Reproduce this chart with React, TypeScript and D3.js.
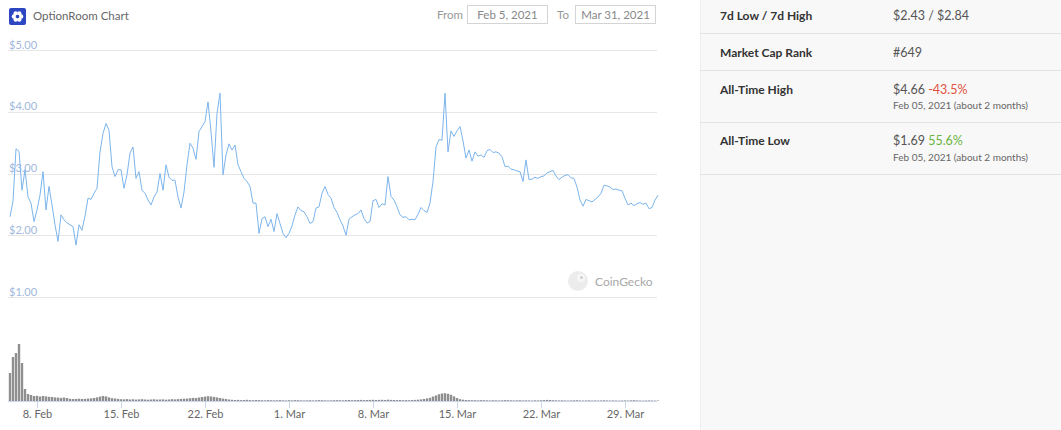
import React from "react";
import * as d3 from "d3";

// ---- data (6-hour samples, first sample Feb 5 2021 18:00 UTC) ----
const START_ISO = "2021-02-05T18:00:00Z";
const STEP_HOURS = 6;

const PRICE: number[] = [
  2.30, 2.55, 3.40, 3.36, 2.73, 3.06, 2.62, 2.52, 2.22, 2.41,
  2.65, 3.03, 2.41, 2.79, 2.49, 2.17, 1.90, 2.33, 2.25, 2.20,
  2.17, 2.14, 1.84, 2.17, 2.08, 2.31, 2.60, 2.58, 2.68, 2.76,
  3.35, 3.65, 3.81, 3.70, 3.11, 2.95, 3.06, 3.06, 2.76, 2.98,
  3.33, 3.43, 2.92, 3.03, 2.73, 2.68, 2.57, 2.49, 2.62, 2.70,
  3.00, 2.73, 3.14, 2.94, 2.89, 2.89, 2.62, 2.44, 2.70, 3.14,
  3.49, 3.41, 3.23, 3.68, 3.76, 3.84, 4.16, 3.68, 3.10, 3.97,
  4.30, 2.98, 3.30, 3.48, 3.38, 3.46, 3.14, 3.03, 2.92, 2.87,
  2.79, 2.52, 2.52, 2.03, 2.27, 2.30, 2.14, 2.26, 2.06, 2.35,
  2.19, 2.03, 1.96, 2.03, 2.15, 2.33, 2.46, 2.40, 2.38, 2.30,
  2.19, 2.22, 2.44, 2.46, 2.68, 2.79, 2.66, 2.60, 2.45, 2.37,
  2.25, 2.15, 2.00, 2.26, 2.30, 2.33, 2.35, 2.41, 2.27, 2.20,
  2.22, 2.56, 2.58, 2.45, 2.51, 2.49, 2.95, 2.63, 2.57, 2.46,
  2.33, 2.29, 2.30, 2.25, 2.26, 2.25, 2.34, 2.45, 2.40, 2.37,
  2.52, 2.87, 3.43, 3.55, 3.54, 4.30, 3.35, 3.69, 3.60, 3.69,
  3.76, 3.53, 3.25, 3.38, 3.20, 3.35, 3.28, 3.30, 3.26, 3.37,
  3.39, 3.34, 3.35, 3.33, 3.27, 3.11, 3.12, 3.07, 3.06, 3.04,
  3.03, 2.87, 3.22, 2.90, 2.91, 2.94, 2.92, 2.95, 2.96, 3.01,
  3.03, 3.05, 2.96, 2.90, 2.94, 2.97, 2.98, 2.93, 2.92, 2.78,
  2.57, 2.47, 2.58, 2.56, 2.54, 2.58, 2.62, 2.68, 2.81, 2.80,
  2.78, 2.74, 2.75, 2.73, 2.72, 2.60, 2.49, 2.52, 2.48, 2.51,
  2.53, 2.50, 2.52, 2.43, 2.45, 2.57, 2.65,
];

const VOLUME: number[] = [
  28, 44, 48, 57, 38, 12, 7, 6, 5, 5.2,
  4.5, 5, 4.6, 4.2, 4, 3.6, 3.4, 3.1, 3.5, 3,
  2.2, 2, 2.1, 2.3, 2, 2.1, 2.4, 2.6, 3, 3.6,
  4.4, 5, 4.6, 3.6, 2.8, 2.5, 2.1, 1.8, 1.6, 1.9,
  1.5, 1.7, 1.4, 1.6, 1.8, 1.5, 1.3, 1.5, 1.7, 1.4,
  1.5, 1.6, 1.3, 1.5, 1.8, 1.6, 1.9, 2.1, 2.3, 2.4,
  2.8, 3.1, 3.0, 3.5, 4.0, 4.4, 4.8, 4.5, 4.1, 3.6,
  3.0, 2.4, 2.0, 1.5, 1.2, 1.0, 1.1, 0.9, 1.0, 1.2,
  0.9, 0.8, 1.0, 0.9, 0.8, 0.7, 0.9, 0.8, 0.7, 0.8,
  0.9, 0.7, 0.6, 0.8, 0.7, 0.9, 0.8, 0.7, 0.6, 0.7,
  0.8, 0.6, 0.7, 0.9, 0.8, 0.7, 0.6, 0.7, 0.8, 0.9,
  0.8, 0.7, 0.9, 1.0, 0.8, 0.9, 1.0, 1.1, 0.9, 1.0,
  1.1, 1.2, 1.0, 1.1, 1.2, 1.0, 1.3, 1.1, 1.0, 0.9,
  1.0, 0.8, 0.9, 0.8, 1.0, 1.1, 1.3, 1.6, 2.0, 2.6,
  3.2, 4.5, 5.6, 6.8, 7.5, 7.8, 7.2, 6.2, 4.6, 3.0,
  1.8, 1.3, 1.0, 0.9, 0.8, 0.8, 0.7, 0.9, 0.8, 0.7,
  0.6, 0.8, 0.7, 0.6, 0.7, 0.9, 0.8, 0.7, 0.6, 0.7,
  0.8, 0.6, 0.7, 0.6, 0.5, 0.7, 0.6, 0.8, 0.9, 1.1,
  1.0, 0.8, 0.7, 0.6, 0.7, 0.6, 0.5, 0.6, 0.7, 0.8,
  0.6, 0.5, 0.6, 0.7, 0.5, 0.6, 0.5, 0.6, 0.7, 0.6,
  0.5, 0.6, 0.5, 0.4, 0.5, 0.6, 0.5, 0.7, 0.8, 0.6,
  0.5, 0.4, 0.5, 0.6, 0.5, 0.4, 0.5,
];

const PRICE_TICKS: number[] = [1, 2, 3, 4, 5];
const X_TICK_DATES: string[] = [
  "2021-02-08", "2021-02-15", "2021-02-22", "2021-03-01",
  "2021-03-08", "2021-03-15", "2021-03-22", "2021-03-29",
];
const X_TICK_LABELS: string[] = [
  "8. Feb", "15. Feb", "22. Feb", "1. Mar", "8. Mar", "15. Mar", "22. Mar", "29. Mar",
];

const STAT_LABELS: string[] = ["7d Low / 7d High", "Market Cap Rank", "All-Time High", "All-Time Low"];
const STAT_VALUES: string[] = ["$2.43 / $2.84", "#649", "$4.66", "$1.69"];
const STAT_CHANGES: string[] = ["", "", "-43.5%", "55.6%"];
const STAT_DATES: string[] = ["", "", "Feb 05, 2021 (about 2 months)", "Feb 05, 2021 (about 2 months)"];

const FONT = "Lato, 'Open Sans', sans-serif";

export default function App() {
  const W = 1061;
  const H = 430;
  const start = new Date(START_ISO).getTime();
  const step = STEP_HOURS * 3600 * 1000;
  const dates = PRICE.map((_, i) => new Date(start + i * step));
  const end = dates[dates.length - 1];

  const x = d3.scaleUtc().domain([dates[0], end]).range([10, 658]);
  const y = d3.scaleLinear().domain([1, 5]).range([297, 50]);
  const yv = d3.scaleLinear().domain([0, 57]).range([401, 344]);

  const line = d3
    .line<number>()
    .x((_, i) => x(dates[i]))
    .y((d) => y(d));

  const gridX0 = 8;
  const gridX1 = 657;

  const rowLines = [33.5, 70.5, 122.5, 174.5];
  const rowY = [19.5, 56.5, 93.5, 145];

  const iconCx = 17.5;
  const iconCy = 16;
  const petals = d3.range(6).map((k) => (k * Math.PI) / 3);

  return (
    <svg
      width={W}
      height={H}
      style={{ position: "absolute", left: 0, top: 0, fontFamily: FONT }}
    >
      <rect x={0} y={0} width={W} height={H} fill="#ffffff" />

      {/* header */}
      <rect x={9} y={8} width={17} height={17} rx={2} fill="#2d47c2" />
      {petals.map((a, k) => (
        <circle
          key={k}
          cx={iconCx + Math.cos(a) * 3.6}
          cy={iconCy + 0.5 + Math.sin(a) * 3.6}
          r={2.2}
          fill="#ffffff"
        />
      ))}
      <circle cx={iconCx} cy={iconCy + 0.5} r={1.7} fill="#2d47c2" />
      <text x={33} y={20} fontSize={11.5} fill="#666">OptionRoom Chart</text>

      <text x={437} y={19} fontSize={11.5} fill="#999">From</text>
      <rect x={467.5} y={5.5} width={80} height={18} fill="#fff" stroke="#d4d4d4" />
      <text x={507.5} y={19} fontSize={11.5} fill="#888" textAnchor="middle">Feb 5, 2021</text>
      <text x={557} y={19} fontSize={11.5} fill="#999">To</text>
      <rect x={575.5} y={5.5} width={80} height={18} fill="#fff" stroke="#d4d4d4" />
      <text x={615.5} y={19} fontSize={11.5} fill="#888" textAnchor="middle">Mar 31, 2021</text>

      {/* price grid + labels */}
      {PRICE_TICKS.map((t) => (
        <g key={t}>
          <line
            x1={gridX0}
            x2={gridX1}
            y1={Math.round(y(t)) + 0.5}
            y2={Math.round(y(t)) + 0.5}
            stroke="#e6e6e6"
          />
          <text x={9} y={y(t) - 1.5} fontSize={11} fill="#a2b8dc">
            {`$${t.toFixed(2)}`}
          </text>
        </g>
      ))}

      {/* watermark */}
      <circle cx={578} cy={281} r={10} fill="#ececec" />
      <circle cx={581} cy={278} r={4} fill="#f7f7f7" />
      <circle cx={581.5} cy={277.5} r={1.5} fill="#cfcfcf" />
      <text x={595} y={285.5} fontSize={12} fill="#a8a8a8">CoinGecko</text>

      {/* price line */}
      <path d={line(PRICE) || ""} fill="none" stroke="#7cb5ec" strokeWidth={1} strokeLinejoin="round" />

      {/* volume */}
      {VOLUME.map((v, i) => {
        const cx = x(new Date(start + i * step));
        const top = yv(v);
        return (
          <rect
            key={i}
            x={cx - 1.2}
            y={top}
            width={2.4}
            height={Math.max(0, 401 - top)}
            fill="#8f8f8f"
          />
        );
      })}

      {/* x axis */}
      <line x1={gridX0} x2={gridX1} y1={401.5} y2={401.5} stroke="#ccd6eb" />
      {X_TICK_DATES.map((d, k) => {
        const tx = Math.round(x(new Date(d + "T00:00:00Z"))) + 0.5;
        return (
          <g key={d}>
            <line x1={tx} x2={tx} y1={401} y2={408} stroke="#ccd6eb" />
            <text x={tx} y={418} fontSize={11} fill="#666" textAnchor="middle">
              {X_TICK_LABELS[k]}
            </text>
          </g>
        );
      })}

      {/* right panel */}
      <rect x={700} y={0} width={361} height={H} fill="#f8f8f8" />
      <line x1={700.5} x2={700.5} y1={0} y2={H} stroke="#eeeeee" />
      {rowLines.map((ly, k) => (
        <line key={k} x1={700} x2={W} y1={ly} y2={ly} stroke="#e3e3e3" />
      ))}
      {STAT_LABELS.map((lab, k) => (
        <g key={lab}>
          <text x={720} y={rowY[k]} fontSize={12} fontWeight="bold" fill="#333">{lab}</text>
          <text x={893} y={rowY[k]} fontSize={12.5} fill="#555">
            {STAT_VALUES[k]}
            {STAT_CHANGES[k] ? (
              <tspan fill={STAT_CHANGES[k].startsWith("-") ? "#e15241" : "#6bb344"}>
                {" " + STAT_CHANGES[k]}
              </tspan>
            ) : null}
          </text>
          {STAT_DATES[k] ? (
            <text x={893} y={rowY[k] + 15.5} fontSize={10} fill="#666">{STAT_DATES[k]}</text>
          ) : null}
        </g>
      ))}
    </svg>
  );
}
